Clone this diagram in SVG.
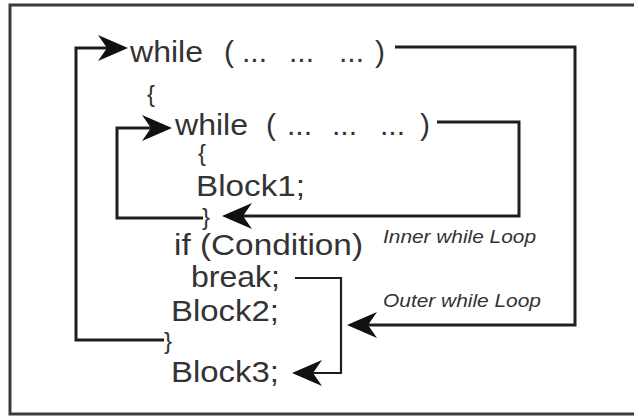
<svg xmlns="http://www.w3.org/2000/svg" width="634" height="417" viewBox="0 0 634 417">
<style>
.code{font-family:"Liberation Sans",Arial,sans-serif;font-size:30px;fill:#333}
.brace{font-family:"Liberation Sans",Arial,sans-serif;font-size:24px;fill:#333}
.lbl{font-family:"Liberation Sans",Arial,sans-serif;font-size:19px;font-style:italic;fill:#333}
.conn{fill:none;stroke:#1e1e1e;stroke-width:3}
.thin{stroke-width:2.2}
</style>
<defs>
<marker id="arr" viewBox="-30 -14 30 28" markerWidth="30" markerHeight="28" refX="-20" refY="0" orient="auto" markerUnits="userSpaceOnUse" overflow="visible">
<path d="M0,0 L-30,-13 L-21,0 L-30,13 Z" fill="#111"/>
</marker>
</defs>
<rect x="0" y="0" width="634" height="417" fill="#fff"/>
<rect id="frame" x="10" y="5" width="640" height="409" fill="none" stroke="#3a3a3a" stroke-width="3"/>
<g id="outer-while">
<text class="code" x="130" y="62" textLength="73" lengthAdjust="spacingAndGlyphs">while</text>
<text class="code" x="224" y="62">(</text>
<text class="code" x="242" y="62">...</text>
<text class="code" x="289" y="62">...</text>
<text class="code" x="339" y="62">...</text>
<text class="code" x="375" y="62">)</text>
</g>
<g id="outer-open"><text class="brace" x="147" y="102">{</text></g>
<g id="inner-while">
<text class="code" x="175" y="135" textLength="73" lengthAdjust="spacingAndGlyphs">while</text>
<text class="code" x="266" y="135">(</text>
<text class="code" x="287" y="135">...</text>
<text class="code" x="332" y="135">...</text>
<text class="code" x="380" y="135">...</text>
<text class="code" x="420" y="135">)</text>
</g>
<g id="inner-open"><text class="brace" x="198" y="161">{</text></g>
<g id="block1"><text class="code" x="196" y="196" textLength="109" lengthAdjust="spacingAndGlyphs">Block1;</text></g>
<g id="inner-close"><text class="brace" x="202" y="225">}</text></g>
<g id="if-cond"><text class="code" x="174" y="255" textLength="189" lengthAdjust="spacingAndGlyphs">if (Condition)</text></g>
<g id="break"><text class="code" x="191" y="287" textLength="89" lengthAdjust="spacingAndGlyphs">break;</text></g>
<g id="block2"><text class="code" x="171" y="321" textLength="108" lengthAdjust="spacingAndGlyphs">Block2;</text></g>
<g id="outer-close"><text class="brace" x="164" y="349">}</text></g>
<g id="block3"><text class="code" x="171" y="382" textLength="108" lengthAdjust="spacingAndGlyphs">Block3;</text></g>
<g id="label-inner"><text class="lbl" x="383" y="243" textLength="153" lengthAdjust="spacingAndGlyphs">Inner while Loop</text></g>
<g id="label-outer"><text class="lbl" x="383" y="307" textLength="158" lengthAdjust="spacingAndGlyphs">Outer while Loop</text></g>
<g id="connectors">
<path class="conn" d="M164,340 H76 V48 H108" marker-end="url(#arr)"/>
<path class="conn" d="M203,218 H117 V128 H152" marker-end="url(#arr)"/>
<path class="conn" d="M395,47 H575 V325 H367" marker-end="url(#arr)"/>
<path class="conn" d="M437,122 H519 V216 H242" marker-end="url(#arr)"/>
<path class="conn thin" d="M295,278 H341 V373 H312" marker-end="url(#arr)"/>
</g>
</svg>
